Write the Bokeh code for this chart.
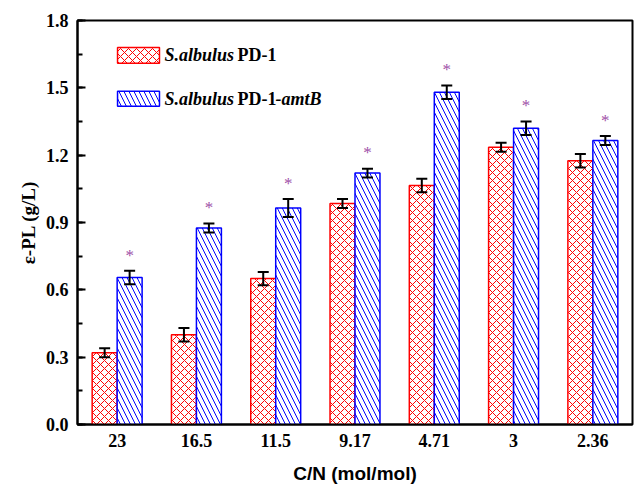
from bokeh.plotting import figure
from bokeh.models import (ColumnDataSource, Whisker, TeeHead, BoxAnnotation, Label,
                          SingleIntervalTicker, FixedTicker, Range1d, NumeralTickFormatter)
from bokeh.embed import file_html
from bokeh.resources import INLINE
from bokeh.core.properties import value

# ---- data ----
categories = ["23", "16.5", "11.5", "9.17", "4.71", "3", "2.36"]
wt_values = [0.32, 0.40, 0.65, 0.985, 1.065, 1.235, 1.175]
wt_errors = [0.02, 0.03, 0.03, 0.02, 0.03, 0.02, 0.03]
mut_values = [0.655, 0.875, 0.965, 1.12, 1.48, 1.32, 1.265]
mut_errors = [0.03, 0.02, 0.04, 0.02, 0.03, 0.03, 0.02]
star_gap = 0.07

RED = "#ff0000"
BLUE = "#0000ff"
STAR = "#a050a8"

bar_w = 0.315
idx = list(range(len(categories)))

src_wt = ColumnDataSource(dict(
    x=[i - bar_w / 2 for i in idx], top=wt_values,
    upper=[v + e for v, e in zip(wt_values, wt_errors)],
    lower=[v - e for v, e in zip(wt_values, wt_errors)]))
src_mut = ColumnDataSource(dict(
    x=[i + bar_w / 2 for i in idx], top=mut_values,
    upper=[v + e for v, e in zip(mut_values, mut_errors)],
    lower=[v - e for v, e in zip(mut_values, mut_errors)],
    star=[v + e + star_gap for v, e in zip(mut_values, mut_errors)],
    txt=["*"] * len(idx)))

p = figure(width=636, height=486, x_range=Range1d(-0.5, 6.5), y_range=Range1d(0, 1.8),
           output_backend="svg", toolbar_location=None,
           min_border_left=77, min_border_right=4, min_border_top=20, min_border_bottom=60)
p.xgrid.visible = False
p.ygrid.visible = False
p.outline_line_color = "black"
p.outline_line_width = 2
p.outline_line_alpha = 1

p.vbar(x="x", top="top", width=bar_w, bottom=0, source=src_wt, fill_color="white",
       line_color=RED, line_width=1.5, hatch_pattern="x", hatch_color=RED,
       hatch_scale=8, hatch_weight=1)
p.vbar(x="x", top="top", width=bar_w, bottom=0, source=src_mut, fill_color="white",
       line_color=BLUE, line_width=1.5, hatch_pattern="\\", hatch_color=BLUE,
       hatch_scale=10, hatch_weight=1)

for s in (src_wt, src_mut):
    w = Whisker(base="x", upper="upper", lower="lower", source=s,
                line_color="black", line_width=2, level="overlay",
                upper_head=TeeHead(size=11, line_width=2, line_color="black"),
                lower_head=TeeHead(size=11, line_width=2, line_color="black"))
    p.add_layout(w)

p.text(x="x", y="star", text="txt", source=src_mut, text_font=value("Liberation Serif"),
       text_font_size="17px", text_color=STAR, text_align="center", text_baseline="middle")

# ---- axes ----
p.xaxis.ticker = FixedTicker(ticks=idx)
p.xaxis.major_label_overrides = {i: c for i, c in enumerate(categories)}
p.xaxis.major_tick_in = 0
p.xaxis.major_tick_out = 0
p.xaxis.minor_tick_line_color = None
p.xaxis.axis_line_width = 2
p.xaxis.major_label_standoff = 9
p.xaxis.major_label_text_font = "Liberation Serif"
p.xaxis.major_label_text_font_style = "bold"
p.xaxis.major_label_text_font_size = "18px"
p.xaxis.major_label_text_color = "black"
p.xaxis.axis_label = "C/N (mol/mol)"
p.xaxis.axis_label_text_font = "Liberation Sans"
p.xaxis.axis_label_text_font_style = "bold"
p.xaxis.axis_label_text_font_size = "19px"
p.xaxis.axis_label_text_color = "black"
p.xaxis.axis_label_standoff = 13

p.yaxis.ticker = SingleIntervalTicker(interval=0.3, num_minor_ticks=2)
p.yaxis.formatter = NumeralTickFormatter(format="0.0")
p.yaxis.major_tick_in = 8
p.yaxis.major_tick_out = 0
p.yaxis.minor_tick_in = 5
p.yaxis.minor_tick_out = 0
p.yaxis.major_tick_line_width = 2
p.yaxis.minor_tick_line_width = 2
p.yaxis.axis_line_width = 2
p.yaxis.major_label_standoff = 9
p.yaxis.major_label_text_font = "Liberation Serif"
p.yaxis.major_label_text_font_style = "bold"
p.yaxis.major_label_text_font_size = "18px"
p.yaxis.major_label_text_color = "black"
p.yaxis.axis_label = "ε-PL (g/L)"
p.yaxis.axis_label_text_font = "Liberation Serif"
p.yaxis.axis_label_text_font_style = "bold"
p.yaxis.axis_label_text_font_size = "19px"
p.yaxis.axis_label_text_color = "black"
p.yaxis.axis_label_standoff = 4

# ---- legend (drawn manually for mixed italic/bold text) ----
leg_left, leg_right = 0.005, 0.534
rows = [(1.680, 1.609, RED, "x", 8, "PD-1", None),
        (1.485, 1.418, BLUE, "\\", 10, "PD-1", "-amtB")]
for top, bottom, col, hp, hs, plain, ital in rows:
    p.add_layout(BoxAnnotation(left=leg_left, right=leg_right, top=top, bottom=bottom,
                               fill_color="white", fill_alpha=1, line_color=col,
                               line_width=1.5, line_alpha=1, hatch_pattern=hp,
                               hatch_color=col, hatch_scale=hs, hatch_weight=1))
    ym = (top + bottom) / 2
    p.add_layout(Label(x=leg_right, y=ym, x_offset=5, text="S.albulus",
                       text_font="Liberation Serif", text_font_style="bold italic",
                       text_font_size="18px", text_baseline="middle", text_color="black"))
    p.add_layout(Label(x=leg_right, y=ym, x_offset=78, text=plain,
                       text_font="Liberation Serif", text_font_style="bold",
                       text_font_size="18px", text_baseline="middle", text_color="black"))
    if ital:
        p.add_layout(Label(x=leg_right, y=ym, x_offset=116, text=ital,
                           text_font="Liberation Serif", text_font_style="bold italic",
                           text_font_size="18px", text_baseline="middle", text_color="black"))

open("out.html", "w").write(file_html(p, INLINE))
